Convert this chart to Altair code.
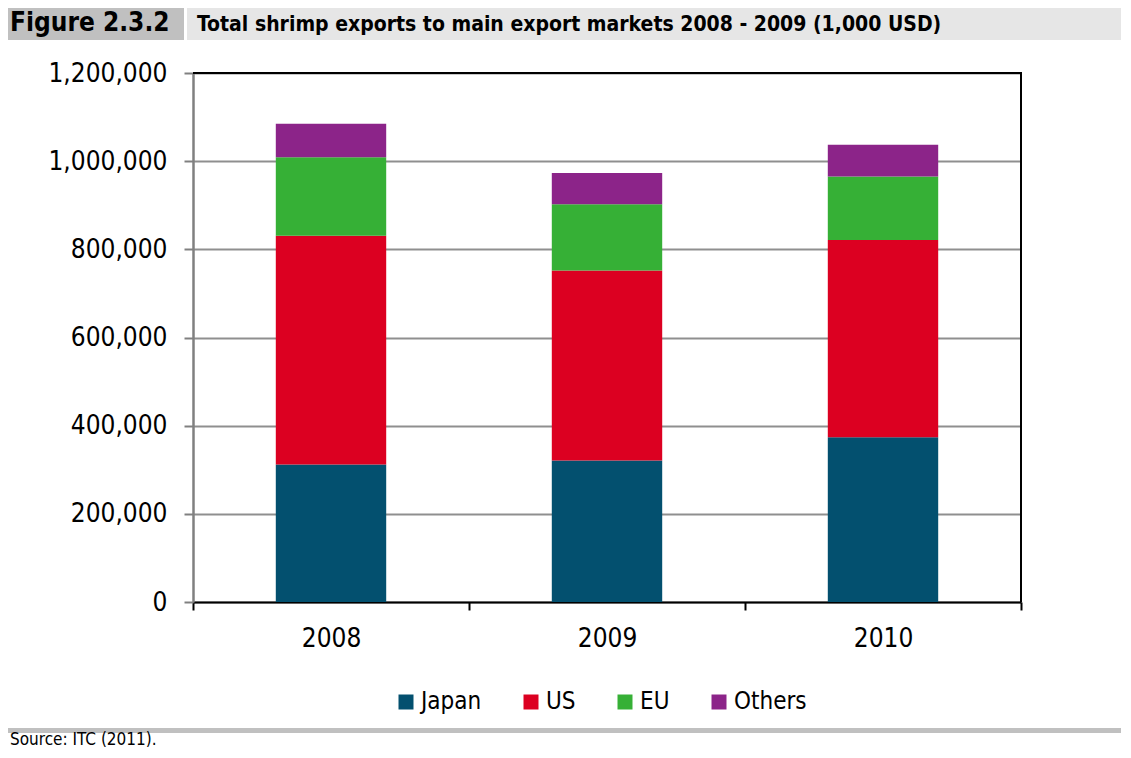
import altair as alt
import pandas as pd

years = ["2008", "2009", "2010"]
markets = ["Japan", "US", "EU", "Others"]
japan = [312000, 321000, 374000]
us = [519000, 431000, 447000]
eu = [178000, 150000, 144000]
others = [76000, 71000, 72000]
colors = ["#03506f", "#dc0021", "#36b036", "#8c2489"]
y_ticks = [0, 200000, 400000, 600000, 800000, 1000000, 1200000]

fig_label = "Figure 2.3.2"
fig_title = "Total shrimp exports to main export markets 2008 - 2009 (1,000 USD)"
source = "Source: ITC (2011)."

series = [japan, us, eu, others]
rows = []
for i, m in enumerate(markets):
    for yr, v in zip(years, series[i]):
        rows.append({"Year": yr, "Market": m, "Value": v, "rank": i})
df = pd.DataFrame(rows)

NARROW = "DejaVu Sans Condensed, sans-serif"
W, H = 828, 529

bars = alt.Chart(df).mark_bar(width=alt.RelativeBandSize(0.4)).encode(
    x=alt.X("Year:N", sort=years, title=None,
            scale=alt.Scale(paddingInner=0, paddingOuter=0),
            axis=alt.Axis(tickBand="extent", labelAngle=0, grid=False,
                          domainColor="black", domainWidth=2,
                          tickColor="black", tickWidth=2, tickSize=8,
                          labelFontSize=26, labelPadding=15, labelColor="black",
                          labelFont=NARROW)),
    y=alt.Y("Value:Q", stack="zero", title=None,
            scale=alt.Scale(domain=[0, 1200000], nice=False),
            axis=alt.Axis(values=y_ticks, format=",d", grid=True,
                          gridColor="#8f8f8f", gridWidth=2,
                          domainColor="#808080", domainWidth=2.5,
                          tickColor="#808080", tickWidth=2, tickSize=9,
                          labelFontSize=26, labelPadding=17, labelColor="black",
                          labelFont=NARROW)),
    color=alt.Color("Market:N", sort=markets,
                    scale=alt.Scale(domain=markets, range=colors),
                    legend=alt.Legend(orient="none", legendX=201, legendY=617,
                                      direction="horizontal", title=None,
                                      symbolType="square", symbolSize=225,
                                      symbolStrokeWidth=0, labelFontSize=24,
                                      labelFont=NARROW, labelColor="black",
                                      columnPadding=37, labelOffset=3, padding=0)),
    order=alt.Order("rank:Q", sort="ascending"),
)

one = pd.DataFrame({"k": [0]})

def box(x, x2, y, y2, color):
    return alt.Chart(one).mark_rect(color=color).encode(
        x=alt.value(x), x2=alt.value(x2), y=alt.value(y), y2=alt.value(y2))

def rule(x, x2, y, y2, color, w):
    return alt.Chart(one).mark_rule(color=color, strokeWidth=w).encode(
        x=alt.value(x), x2=alt.value(x2), y=alt.value(y), y2=alt.value(y2))

def label(txt, x, y, size, font, weight="normal"):
    return alt.Chart(one).mark_text(align="left", baseline="alphabetic",
                                    fontSize=size, font=font, fontWeight=weight,
                                    color="black").encode(
        x=alt.value(x), y=alt.value(y), text=alt.value(txt))

fig_box = box(-185, -9, -65, -33, "#c0c0c0")
title_box = box(-6, 928, -65, -33, "#e6e6e6")
bottom_band = box(-185, 928, 655, 660, "#c0c0c0")
top_border = rule(0, W + 1, 0, 0, "black", 2)
right_border = rule(W, W, 0, H, "black", 2)

t1 = label(fig_label, -183, -42, 26, NARROW, "bold")
t2 = label(fig_title, 4, -42, 21, NARROW, "bold")
t3 = label(source, -183, 672, 17, NARROW)

chart = alt.layer(
    fig_box, title_box, bottom_band, bars, top_border, right_border, t1, t2, t3
).properties(
    width=W, height=H,
    padding={"left": 185, "top": 65, "right": 102, "bottom": 148},
    autosize=alt.AutoSizeParams(type="none"),
).configure_view(stroke=None)

chart.save("out.html", embed_options={"renderer": "svg", "actions": False})
